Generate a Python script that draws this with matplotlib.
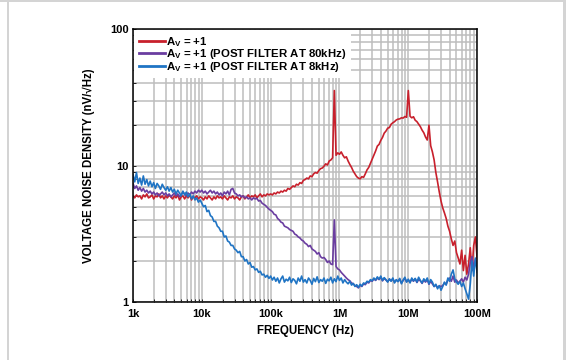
import numpy as np
import matplotlib
matplotlib.use('Agg')
import matplotlib.pyplot as plt
from matplotlib.patches import Rectangle

plt.rcParams['font.family'] = ['Liberation Sans', 'DejaVu Sans']
plt.rcParams['font.weight'] = 'bold'
plt.rcParams['mathtext.default'] = 'regular'

# frequency grid (log10 Hz)
freq_exp = [
    3.000, 3.025, 3.050, 3.075, 3.100, 3.125, 3.150, 3.175, 3.200, 3.225,
    3.250, 3.275, 3.300, 3.325, 3.350, 3.375, 3.400, 3.425, 3.450, 3.475,
    3.500, 3.525, 3.550, 3.575, 3.600, 3.625, 3.650, 3.675, 3.700, 3.725,
    3.750, 3.775, 3.800, 3.825, 3.850, 3.875, 3.900, 3.925, 3.950, 3.975,
    4.000, 4.025, 4.050, 4.075, 4.100, 4.125, 4.150, 4.175, 4.200, 4.225,
    4.250, 4.275, 4.300, 4.325, 4.350, 4.375, 4.400, 4.425, 4.450, 4.475,
    4.500, 4.525, 4.550, 4.575, 4.600, 4.625, 4.650, 4.675, 4.700, 4.725,
    4.750, 4.775, 4.800, 4.825, 4.850, 4.875, 4.900, 4.925, 4.950, 4.975,
    5.000, 5.025, 5.050, 5.075, 5.100, 5.125, 5.150, 5.175, 5.200, 5.225,
    5.250, 5.275, 5.300, 5.325, 5.350, 5.375, 5.400, 5.425, 5.450, 5.475,
    5.500, 5.525, 5.550, 5.575, 5.600, 5.625, 5.650, 5.675, 5.700, 5.725,
    5.750, 5.775, 5.800, 5.825, 5.850, 5.875, 5.900, 5.925, 5.950, 5.975,
    6.000, 6.025, 6.050, 6.075, 6.100, 6.125, 6.150, 6.175, 6.200, 6.225,
    6.250, 6.275, 6.300, 6.325, 6.350, 6.375, 6.400, 6.425, 6.450, 6.475,
    6.500, 6.525, 6.550, 6.575, 6.600, 6.625, 6.650, 6.675, 6.700, 6.725,
    6.750, 6.775, 6.800, 6.825, 6.850, 6.875, 6.900, 6.925, 6.950, 6.975,
    7.000, 7.025, 7.050, 7.075, 7.100, 7.125, 7.150, 7.175, 7.200, 7.225,
    7.250, 7.275, 7.300, 7.325, 7.350, 7.375, 7.400, 7.425, 7.450, 7.475,
    7.500, 7.525, 7.550, 7.575, 7.600, 7.625, 7.650, 7.675, 7.700, 7.725,
    7.750, 7.775, 7.800, 7.825, 7.850, 7.875, 7.900, 7.925, 7.950, 7.975,
    8.000,
]

# Av = +1 (no filter), nV/rtHz
noise_av1 = [
    6.0, 5.8, 6.1, 5.9, 6.0, 5.7, 6.1, 5.9, 6.2, 5.8,
    5.9, 6.1, 5.7, 6.0, 5.9, 6.2, 5.8, 6.0, 5.7, 6.0,
    5.8, 6.1, 5.9, 5.7, 6.0, 5.8, 6.1, 5.6, 5.9, 6.0,
    5.7, 6.0, 5.8, 6.1, 5.6, 5.9, 5.8, 6.0, 5.7, 5.9,
    5.8, 5.6, 5.9, 5.7, 6.0, 5.8, 5.6, 5.9, 5.7, 6.0,
    5.8, 5.9, 5.7, 6.0, 5.8, 5.6, 5.9, 5.8, 6.0, 5.7,
    5.9, 5.8, 5.6, 5.9, 6.0, 5.7, 5.9, 6.1, 5.8, 6.0,
    5.9, 6.1, 5.8, 6.0, 6.2, 5.9, 6.1, 6.0, 6.2, 6.1,
    6.2, 6.1, 6.3, 6.2, 6.4, 6.3, 6.5, 6.4, 6.6, 6.5,
    6.8, 6.7, 6.9, 7.1, 7.0, 7.3, 7.2, 7.5, 7.4, 7.8,
    7.9, 8.1, 8.0, 8.4, 8.3, 8.7, 8.9, 8.8, 9.2, 9.5,
    9.6, 9.9, 10.3, 10.1, 10.8, 11.0, 11.4, 35.5, 11.9, 12.4,
    12.1, 12.6, 11.9, 11.4, 11.6, 10.8, 10.2, 9.7, 9.1, 8.7,
    8.3, 8.1, 8.0, 8.3, 8.2, 8.7, 9.3, 9.7, 10.4, 11.1,
    11.9, 12.8, 13.9, 14.3, 15.3, 16.1, 17.3, 17.9, 18.8, 19.0,
    20.1, 20.6, 21.0, 21.6, 21.9, 22.0, 22.4, 22.3, 22.9, 22.6,
    35.5, 23.0, 22.4, 22.8, 21.5, 21.0, 20.1, 19.3, 18.2, 17.4,
    16.2, 15.4, 19.8, 14.0, 12.6, 11.0, 8.9, 7.6, 6.4, 5.5,
    4.9, 4.5, 4.1, 3.6, 3.3, 2.9, 2.6, 2.8, 2.3, 2.1,
    1.9, 2.4, 1.7, 2.2, 1.6, 1.9, 2.5, 1.7, 2.6, 3.0,
    2.1,
]

# Av = +1, post filter at 80kHz
noise_80k = [
    7.4, 6.8, 7.1, 6.6, 6.9, 6.5, 6.8, 6.4, 6.6, 6.3,
    6.5, 6.2, 6.4, 6.1, 6.3, 6.0, 6.2, 6.4, 6.1, 6.3,
    6.0, 6.2, 5.9, 6.1, 6.3, 6.0, 6.2, 5.9, 6.1, 6.4,
    6.2, 6.0, 6.3, 6.1, 6.4, 6.2, 6.5, 6.3, 6.6, 6.4,
    6.6, 6.3, 6.5, 6.2, 6.4, 6.6, 6.3, 6.5, 6.2, 6.4,
    6.1, 6.3, 6.0, 6.4, 6.2, 6.5, 6.1, 6.7, 6.8, 6.3,
    6.2, 6.0, 6.1, 5.9, 6.0, 5.8, 5.9, 5.7, 5.8, 5.6,
    5.8, 5.7, 5.75, 5.5, 5.55, 5.3, 5.2, 5.1, 4.95, 4.8,
    4.7, 4.6, 4.4, 4.35, 4.1, 4.0, 3.85, 3.8, 3.6, 3.55,
    3.5, 3.4, 3.35, 3.3, 3.15, 3.1, 3.0, 2.95, 2.85, 2.8,
    2.7, 2.65, 2.55, 2.6, 2.45, 2.4, 2.35, 2.25, 2.3, 2.15,
    2.1, 2.12, 2.05, 1.95, 2.0, 1.9, 1.88, 4.0, 1.82, 1.75,
    1.72, 1.65, 1.60, 1.55, 1.50, 1.46, 1.43, 1.38, 1.36, 1.32,
    1.30, 1.27, 1.33, 1.30, 1.36, 1.34, 1.40, 1.38, 1.44, 1.42,
    1.48, 1.44, 1.50, 1.46, 1.52, 1.43, 1.49, 1.45, 1.41, 1.47,
    1.43, 1.48, 1.40, 1.45, 1.42, 1.47, 1.38, 1.44, 1.49, 1.41,
    1.45, 1.40, 1.47, 1.42, 1.48, 1.39, 1.46, 1.43, 1.37, 1.45,
    1.40, 1.46, 1.35, 1.42, 1.36, 1.30, 1.33, 1.28, 1.31, 1.30,
    1.32, 1.38, 1.35, 1.45, 1.50, 1.42, 1.55, 1.40, 1.45, 1.38,
    1.42, 1.48, 1.40, 1.52, 1.45, 1.60, 1.95, 2.15, 1.80, 2.05,
    1.85,
]

# Av = +1, post filter at 8kHz
noise_8k = [
    8.6, 7.6, 8.9, 7.4, 8.1, 7.2, 8.4, 7.3, 7.9, 7.1,
    7.7, 7.0, 7.5, 6.8, 7.4, 7.1, 6.7, 7.3, 6.9, 6.6,
    7.0, 6.5, 6.9, 6.4, 6.7, 6.2, 6.6, 6.3, 6.0, 6.5,
    6.1, 6.4, 5.9, 6.2, 5.7, 6.0, 5.6, 5.8, 5.4, 5.6,
    5.3, 5.0, 5.1, 4.6, 4.7, 4.3, 4.2, 3.9, 3.9, 3.6,
    3.5, 3.3, 3.3, 3.0, 3.05, 2.8, 2.75, 2.6, 2.6, 2.45,
    2.4, 2.3, 2.35, 2.15, 2.15, 2.0, 2.05, 1.9, 1.95, 1.8,
    1.82, 1.72, 1.75, 1.65, 1.68, 1.58, 1.6, 1.52, 1.57, 1.49,
    1.55, 1.45, 1.52, 1.42, 1.50, 1.38, 1.48, 1.55, 1.40, 1.47,
    1.43, 1.52, 1.39, 1.48, 1.44, 1.36, 1.50, 1.42, 1.55, 1.40,
    1.46, 1.38, 1.50, 1.44, 1.35, 1.49, 1.41, 1.53, 1.39, 1.46,
    1.42, 1.50, 1.37, 1.47, 1.43, 1.52, 1.38, 1.48, 1.41, 1.55,
    1.44, 1.50, 1.38, 1.46, 1.40, 1.36, 1.42, 1.33, 1.37, 1.30,
    1.34, 1.28, 1.35, 1.31, 1.38, 1.36, 1.42, 1.40, 1.46, 1.43,
    1.50, 1.45, 1.53, 1.47, 1.55, 1.44, 1.51, 1.46, 1.40, 1.48,
    1.42, 1.50, 1.38, 1.46, 1.41, 1.49, 1.36, 1.45, 1.52, 1.40,
    1.47, 1.38, 1.50, 1.43, 1.49, 1.40, 1.52, 1.44, 1.38, 1.48,
    1.42, 1.50, 1.36, 1.46, 1.40, 1.30, 1.35, 1.25, 1.32, 1.22,
    1.30, 1.40, 1.33, 1.50, 1.42, 1.60, 1.72, 1.48, 1.40, 1.35,
    1.42, 1.30, 1.38, 1.25, 1.15, 1.05, 1.35, 2.00, 1.55, 2.10,
    1.65,
]

x_ticks = [1e3, 1e4, 1e5, 1e6, 1e7, 1e8]
x_labels = ['1k', '10k', '100k', '1M', '10M', '100M']
y_ticks = [1, 10, 100]
y_labels = ['1', '10', '100']

freq = 10 ** np.array(freq_exp)

fig = plt.figure(figsize=(5.66, 3.6), dpi=100)
ax = fig.add_axes([0.235, 0.161, 0.608, 0.758])

ax.plot(freq, noise_av1, color='#c8202c', lw=1.2, label='A$_{V}$ = +1')
ax.plot(freq, noise_80k, color='#6a3da0', lw=1.2, label='A$_{V}$ = +1 (POST FILTER AT 80kHz)')
ax.plot(freq, noise_8k, color='#1f74c4', lw=1.2, label='A$_{V}$ = +1 (POST FILTER AT 8kHz)')

ax.set_xscale('log')
ax.set_yscale('log')
ax.set_xlim(1e3, 1e8)
ax.set_ylim(1, 100)
ax.set_xticks(x_ticks)
ax.set_xticklabels(x_labels)
ax.set_yticks(y_ticks)
ax.set_yticklabels(y_labels)
ax.grid(True, which='both', color='#bdbdbd', lw=1.1)
ax.set_axisbelow(True)
ax.tick_params(which='both', direction='in', length=2, width=0.6, labelsize=8)
ax.tick_params(axis='x', pad=5)
ax.tick_params(axis='y', pad=3)
for s in ax.spines.values():
    s.set_linewidth(1.1)

ax.set_xlabel('FREQUENCY (Hz)', fontsize=8.3, fontweight='bold', labelpad=4)
ax.set_ylabel('VOLTAGE NOISE DENSITY (nV/√Hz)', fontsize=8.3, fontweight='bold', labelpad=11)

leg = ax.legend(loc='upper left', bbox_to_anchor=(0, 1), borderaxespad=0.1,
                fontsize=8.2, handlelength=2.3, handletextpad=0.1, labelspacing=-0.12,
                borderpad=0.4, frameon=True, fancybox=False, framealpha=1,
                facecolor='white', edgecolor='white')
for line in leg.get_lines():
    line.set_linewidth(2)
leg.get_frame().set_linewidth(0)

# light grey card edges
grey = '#d4d4d4'
fig.add_artist(Rectangle((0, 1 - 2 / 360), 1, 2 / 360, transform=fig.transFigure, color=grey, lw=0))
fig.add_artist(Rectangle((7 / 566, 0), 2 / 566, 1, transform=fig.transFigure, color=grey, lw=0))
fig.add_artist(Rectangle((563 / 566, 0), 3 / 566, 1, transform=fig.transFigure, color=grey, lw=0))

fig.savefig('out.png', dpi=100)
